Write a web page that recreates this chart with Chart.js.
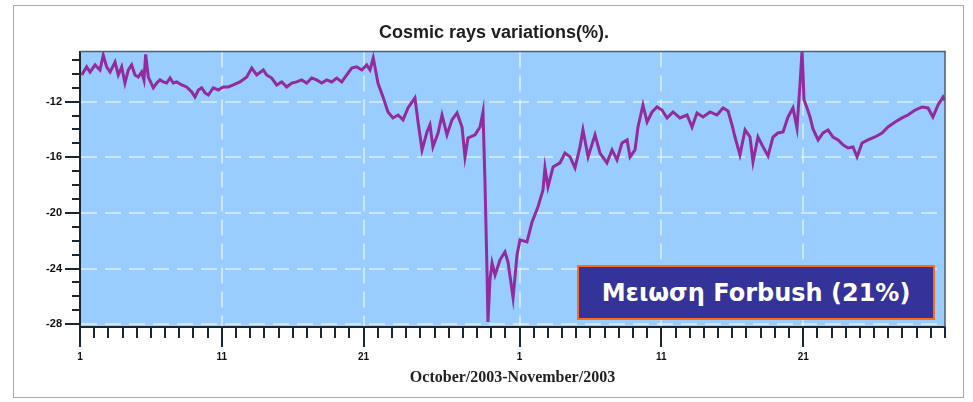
<!DOCTYPE html>
<html>
<head>
<meta charset="utf-8">
<script src="https://cdn.jsdelivr.net/npm/chart.js@4.4.1/dist/chart.umd.min.js"></script>
<style>
  html, body { margin: 0; padding: 0; background: #ffffff; }
  #wrap { position: relative; width: 973px; height: 402px; overflow: hidden; }
  #frame { position: absolute; left: 13px; top: 5px; width: 951px; height: 393px;
           border: 1px solid #a8a8a8; box-sizing: border-box; }
  #chart { position: absolute; left: 0; top: 0; }
  #note { position: absolute; left: 577px; top: 265px; width: 358px; height: 55px;
          box-sizing: border-box; background: #333399; border: 2px solid #ff6a1a;
          color: #ffffff; font: bold 24px "DejaVu Sans", sans-serif;
          display: flex; align-items: center; justify-content: center; white-space: nowrap; }
</style>
</head>
<body>
<div id="wrap">
  <div id="frame"></div>
  <canvas id="chart" width="973" height="402"></canvas>
  <div id="note">Μειωση Forbush (21%)</div>
</div>
<script>
// Cosmic ray intensity variation (%) — time in days since 1 October 2003 00:00
const dayOffsets = [
  0.12, 0.47, 0.71, 1.06, 1.41, 1.64, 1.88, 2.12, 2.47, 2.70,
  2.94, 3.17, 3.41, 3.64, 3.88, 4.11, 4.35, 4.51, 4.63, 4.82,
  5.17, 5.41, 5.64, 5.88, 6.11, 6.35, 6.58, 6.82, 7.17, 7.52,
  7.88, 8.11, 8.35, 8.58, 8.82, 9.05, 9.40, 9.75, 10.10, 10.46,
  10.81, 11.28, 11.76, 12.11, 12.46, 12.93, 13.16, 13.52, 13.87, 14.22,
  14.58, 14.93, 15.28, 15.63, 15.99, 16.34, 16.69, 17.05, 17.40, 17.75,
  18.10, 18.46, 18.81, 19.16, 19.51, 19.87, 20.22, 20.45, 20.68, 21.02,
  21.37, 21.72, 22.07, 22.43, 22.78, 23.13, 23.62, 23.84, 24.12, 24.47,
  24.68, 24.89, 25.25, 25.53, 25.88, 26.23, 26.59, 26.94, 27.15, 27.36,
  27.86, 28.21, 28.42, 28.56, 28.70, 28.77, 28.91, 29.06, 29.27, 29.62,
  29.97, 30.18, 30.54, 30.82, 31.03, 31.52, 31.88, 32.30, 32.65, 32.79,
  33.00, 33.36, 33.85, 34.20, 34.56, 34.91, 35.26, 35.47, 35.83, 36.32,
  36.67, 37.16, 37.52, 37.87, 38.22, 38.58, 38.79, 39.14, 39.35, 39.70,
  39.99, 40.34, 40.69, 41.04, 41.40, 41.82, 42.31, 42.81, 43.16, 43.51,
  43.94, 44.43, 44.92, 45.35, 45.70, 45.98, 46.19, 46.54, 46.90, 47.25,
  47.46, 47.81, 48.17, 48.52, 48.87, 49.22, 49.58, 49.93, 50.28, 50.56,
  50.78, 50.92, 51.06, 51.27, 51.48, 51.69, 52.05, 52.40, 52.75, 53.10,
  53.46, 53.81, 54.16, 54.51, 54.80, 55.15, 55.57, 56.06, 56.56, 56.98,
  57.48, 57.97, 58.39, 58.89, 59.38, 59.80, 60.15, 60.51, 60.86, 60.98
];
const variation = [
  -10.08, -9.50, -9.87, -9.36, -9.72, -8.65, -9.50, -9.87, -9.15, -10.08,
  -9.50, -10.66, -9.72, -9.36, -10.08, -10.23, -9.87, -10.44, -8.60, -10.23,
  -11.00, -10.66, -10.44, -10.58, -10.66, -10.30, -10.66, -10.58, -10.80, -10.94,
  -11.30, -11.66, -11.16, -11.00, -11.37, -11.52, -11.00, -11.16, -10.94, -10.94,
  -10.80, -10.58, -10.23, -9.58, -10.08, -9.72, -10.08, -10.30, -10.80, -10.58,
  -10.94, -10.66, -10.58, -10.44, -10.66, -10.30, -10.44, -10.66, -10.44, -10.58,
  -10.30, -10.58, -10.08, -9.58, -9.50, -9.72, -9.36, -9.72, -8.86, -10.70,
  -11.66, -12.74, -13.17, -12.96, -13.31, -12.45, -11.73, -13.46, -15.47, -14.18,
  -13.67, -15.25, -14.25, -12.96, -14.39, -13.31, -12.81, -13.82, -15.97, -14.61,
  -14.39, -13.82, -12.74, -17.84, -24.09, -27.83, -24.81, -23.60, -24.46, -23.37,
  -22.80, -23.52, -26.10, -23.01, -21.94, -22.08, -20.64, -19.56, -18.34, -16.76,
  -18.13, -16.69, -16.40, -15.69, -15.97, -16.76, -15.25, -14.03, -15.97, -14.39,
  -15.69, -16.40, -15.47, -16.19, -14.97, -14.75, -15.97, -15.47, -13.82, -12.24,
  -13.46, -12.74, -12.38, -12.60, -13.17, -12.74, -13.17, -12.96, -13.82, -12.81,
  -13.10, -12.74, -12.96, -12.45, -12.67, -13.67, -14.54, -15.83, -14.03, -14.54,
  -16.33, -14.54, -15.25, -15.90, -14.54, -14.25, -14.18, -13.10, -12.45, -13.89,
  -10.66, -8.30, -11.88, -12.45, -13.10, -13.96, -14.75, -14.25, -14.03, -14.54,
  -14.75, -15.11, -15.33, -15.25, -15.97, -14.97, -14.75, -14.54, -14.25, -13.82,
  -13.46, -13.17, -12.96, -12.60, -12.38, -12.45, -13.10, -12.24, -11.66, -11.90
];

// Labelled date ticks (day of month) and their offsets in days
const dateTickDays = [0, 10, 20, 31, 41, 51];
const dateTickLabels = ['1', '11', '21', '1', '11', '21'];
const valueTickStep = 4;

const points = dayOffsets.map((d, i) => ({ x: d, y: variation[i] }));

const gridLine = 'rgba(255,255,255,0.5)';
const axisInk = '#1b2633';

// Light blue plotting field behind the grid
const plotField = {
  id: 'plotField',
  beforeDraw(chart) {
    const { ctx, chartArea: a } = chart;
    ctx.save();
    ctx.fillStyle = '#99ccff';
    ctx.fillRect(a.left, a.top, a.right - a.left, a.bottom - a.top);
    ctx.restore();
  }
};

// Outer tick marks (long for labelled values, short otherwise) and the top/right frame
const tickMarks = {
  id: 'tickMarks',
  afterDraw(chart) {
    const { ctx, chartArea: a } = chart;
    const xs = chart.scales.x, ys = chart.scales.y;
    ctx.save();
    ctx.strokeStyle = '#4f5f70';
    ctx.lineWidth = 1.5;
    ctx.beginPath();
    ctx.moveTo(a.left, a.top); ctx.lineTo(a.right, a.top); ctx.lineTo(a.right, a.bottom);
    ctx.stroke();

    ctx.strokeStyle = axisInk;
    ctx.lineWidth = 2;
    ctx.beginPath();
    xs.ticks.forEach(t => {
      const px = Math.round(xs.getPixelForValue(t.value));
      const major = dateTickDays.includes(t.value);
      ctx.moveTo(px, a.bottom);
      ctx.lineTo(px, a.bottom + (major ? 20 : 11));
    });
    ys.ticks.forEach(t => {
      const py = Math.round(ys.getPixelForValue(t.value));
      const major = t.value % valueTickStep === 0;
      ctx.moveTo(a.left, py);
      ctx.lineTo(a.left - (major ? 15 : 8), py);
    });
    ctx.stroke();
    ctx.restore();
  }
};

new Chart(document.getElementById('chart'), {
  type: 'line',
  data: {
    datasets: [{
      data: points,
      borderColor: '#922aa0',
      borderWidth: 3,
      pointRadius: 0,
      tension: 0
    }]
  },
  options: {
    responsive: false,
    animation: false,
    devicePixelRatio: 1,
    layout: { padding: { left: 43, right: 28, top: 16, bottom: 15 } },
    plugins: {
      legend: { display: false },
      tooltip: { enabled: false },
      title: {
        display: true,
        text: 'Cosmic rays variations(%).',
        color: '#1e1e1e',
        font: { family: 'Liberation Sans', size: 18, weight: 'bold' },
        padding: { top: 6, bottom: 8 }
      }
    },
    scales: {
      x: {
        type: 'linear',
        min: 0,
        max: 61,
        afterFit(scale) { scale.height = 60; },
        ticks: {
          stepSize: 1,
          autoSkip: false,
          maxRotation: 0,
          maxTicksLimit: 100,
          includeBounds: false,
          padding: 24,
          color: '#111111',
          font: { family: 'Liberation Sans', size: 10, weight: 'bold' },
          callback(value) {
            const i = dateTickDays.indexOf(value);
            return i >= 0 ? dateTickLabels[i] : '';
          }
        },
        grid: {
          drawTicks: false,
          lineWidth: 2,
          color(ctx) {
            return ctx.tick && dateTickDays.includes(ctx.tick.value) && ctx.tick.value > 0 ? gridLine : 'rgba(0,0,0,0)';
          }
        },
        border: { display: true, color: axisInk, width: 2, dash: [16, 8] },
        title: {
          display: true,
          text: 'October/2003-November/2003',
          color: '#222222',
          font: { family: 'Liberation Serif', size: 16, weight: 'bold' },
          padding: { top: 0, bottom: 0 }
        }
      },
      y: {
        type: 'linear',
        min: -28.2,
        max: -8.4,
        afterFit(scale) { scale.width = 37; },
        ticks: {
          stepSize: 1,
          autoSkip: false,
          maxTicksLimit: 100,
          includeBounds: false,
          padding: 18,
          color: '#111111',
          font: { family: 'Liberation Sans', size: 11, weight: 'bold' },
          callback(value) {
            return value % valueTickStep === 0 ? String(value) : '';
          }
        },
        grid: {
          drawTicks: false,
          lineWidth: 2,
          color(ctx) {
            return ctx.tick && ctx.tick.value % valueTickStep === 0 ? gridLine : 'rgba(0,0,0,0)';
          }
        },
        border: { display: true, color: axisInk, width: 2, dash: [16, 8] }
      }
    }
  },
  plugins: [plotField, tickMarks]
});
</script>
</body>
</html>
